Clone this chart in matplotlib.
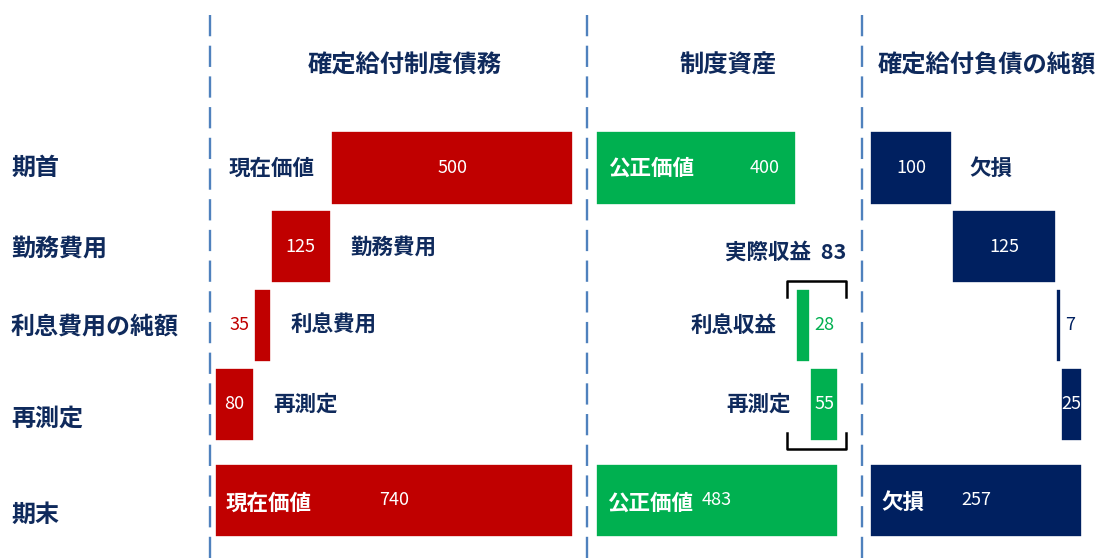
import numpy as np
import matplotlib
matplotlib.use('Agg')
import matplotlib.pyplot as plt

plt.rcParams['font.family'] = ['Noto Sans CJK JP', 'DejaVu Sans']

# row and panel labels
row_labels = ['期首', '勤務費用', '利息費用の純額', '再測定', '期末']
titles = ['確定給付制度債務', '制度資産', '確定給付負債の純額']

# 確定給付制度債務 (present value of the obligation)
dbo_values = [500, 125, 35, 80]
dbo_rows = [0, 1, 2, 3]
dbo_notes = ['現在価値', '勤務費用', '利息費用', '再測定']

# 制度資産 (plan assets)
asset_values = [400, 28, 55]
asset_rows = [0, 2, 3]
asset_notes = ['公正価値', '利息収益', '再測定']

# 確定給付負債の純額 (net liability)
net_values = [100, 125, 7, 25]
net_rows = [0, 1, 2, 3]
net_notes = ['欠損', None, None, None]

total_notes = ['現在価値', '公正価値', '欠損']
return_label = '実際収益'

# styles / layout
RED = '#c00000'
GREEN = '#00b050'
NAVY = '#002060'
TEXT = '#0f2a5c'
DASH = '#4f81bd'
W, H = 1104, 558
PX_UNIT = 78.7          # pixels per row unit
Y0 = 168                # pixel centre of first row
ys = [0, 1, 2, 3, 4.22]
label_ys = [0, 1.02, 2.02, 3.18, 4.41]
ylim = ((H - Y0) / PX_UNIT, -Y0 / PX_UNIT)
bar_h = 0.93
NOTE_SIZE = 15.5
NUM_SIZE = 13

fig = plt.figure(figsize=(W / 100, H / 100), dpi=100)
renderer = fig.canvas.get_renderer()

# overlay for row labels and dashed separators
base = fig.add_axes([0, 0, 1, 1])
base.set_xlim(0, W)
base.set_ylim(*ylim)
base.axis('off')
base.vlines([210, 587, 862], ymin=(15 - Y0) / PX_UNIT, ymax=ylim[0],
            colors=DASH, linewidth=1.7, linestyles=(0, (9, 4)))
for y, lab in zip(label_ys, row_labels):
    base.text(11, y, lab, ha='left', va='center', fontsize=17.3,
              fontweight='bold', color=TEXT)


def draw_panel(x0, x1, values, rows, notes, sides, total_note, color, title, reverse=False):
    ax = fig.add_axes([x0 / W, 0, (x1 - x0) / W, 1])
    total = sum(values)
    lefts = np.concatenate([[0], np.cumsum(values)[:-1]])
    ax.set_xlim((total, 0) if reverse else (0, total))
    ax.set_ylim(*ylim)
    ax.axis('off')
    sign = -1 if reverse else 1

    yy = [ys[r] for r in rows]
    ax.barh(yy, values, left=lefts, height=bar_h, color=color,
            edgecolor='white', linewidth=1.2)
    ax.barh(ys[4], total, left=0, height=bar_h, color=color,
            edgecolor='white', linewidth=1.2)

    for y, v, l, note, side in zip(yy, values, lefts, notes, sides):
        lo_vis, hi_vis = (l, l + v) if sign > 0 else (l + v, l)
        if side == 'inside':
            ax.annotate(note, (lo_vis, y), xytext=(9, 0), textcoords='offset points',
                        ha='left', va='center', fontsize=NOTE_SIZE, fontweight='bold', color='white')
            ax.annotate(str(v), (hi_vis, y), xytext=(-12, 0), textcoords='offset points',
                        ha='right', va='center', fontsize=NUM_SIZE, color='white')
            continue
        t = ax.text(l + v / 2, y, str(v), ha='center', va='center', fontsize=NUM_SIZE,
                    color='white')
        tw = t.get_window_extent(renderer).width
        bw = abs(ax.transData.transform((l + v, y))[0] - ax.transData.transform((l, y))[0])
        if tw > bw + 1:
            t.remove()
            ax.annotate(str(v), (l + v, y), xytext=(sign * 3, 0), textcoords='offset points',
                        ha='left' if sign > 0 else 'right', va='center', fontsize=NUM_SIZE,
                        color=color)
        if note is None:
            continue
        if side == 'after':
            ax.annotate(note, (l + v, y), xytext=(sign * 12, 0), textcoords='offset points',
                        ha='left' if sign > 0 else 'right', va='center',
                        fontsize=NOTE_SIZE, fontweight='bold', color=TEXT)
        else:
            ax.annotate(note, (l, y), xytext=(-sign * 14, 0), textcoords='offset points',
                        ha='right' if sign > 0 else 'left', va='center',
                        fontsize=NOTE_SIZE, fontweight='bold', color=TEXT)

    # total row
    left_end = total if reverse else 0
    ax.annotate(total_note, (left_end, ys[4]), xytext=(8, -2), textcoords='offset points',
                ha='left', va='center', fontsize=NOTE_SIZE, fontweight='bold', color='white')
    ax.text(total / 2, ys[4], str(total), ha='center', va='center', fontsize=NUM_SIZE,
            color='white')

    ax.annotate(title, (total / 2, (66 - Y0) / PX_UNIT), xytext=(8, 0), textcoords='offset points',
                ha='center', va='center', fontsize=17.5, fontweight='bold', color=TEXT,
                annotation_clip=False)
    return ax, lefts, total


draw_panel(215, 573, dbo_values, dbo_rows, dbo_notes,
           ['after', 'before', 'before', 'before'], total_notes[0], RED, titles[0], reverse=True)

ax2, lefts2, total2 = draw_panel(596, 838, asset_values, asset_rows, asset_notes,
                                 ['inside', 'before', 'before'], total_notes[1], GREEN, titles[1])

draw_panel(870, 1082, net_values, net_rows, net_notes,
           ['after', None, None, None], total_notes[2], NAVY, titles[2])

# bracket around the actual return items on the asset panel
pad = 0.04 * total2
xl = lefts2[1] - pad
xr = total2 + 0.035 * total2
y_top = ys[2] - bar_h / 2 - 0.1
y_bot = ys[3] + bar_h / 2 + 0.1
tick = 0.2
ax2.plot([xl, xl, xr, xr], [y_top + tick, y_top, y_top, y_top + tick],
         color='black', lw=1.8, solid_joinstyle='round', clip_on=False)
ax2.plot([xl, xl, xr, xr], [y_bot - tick, y_bot, y_bot, y_bot - tick],
         color='black', lw=1.8, solid_joinstyle='round', clip_on=False)
ax2.text(xr, y_top - 0.36, f'{return_label}  {sum(asset_values[1:])}', ha='right', va='center',
         fontsize=NOTE_SIZE, fontweight='bold', color=TEXT, clip_on=False)

fig.savefig('out.png', dpi=100)
